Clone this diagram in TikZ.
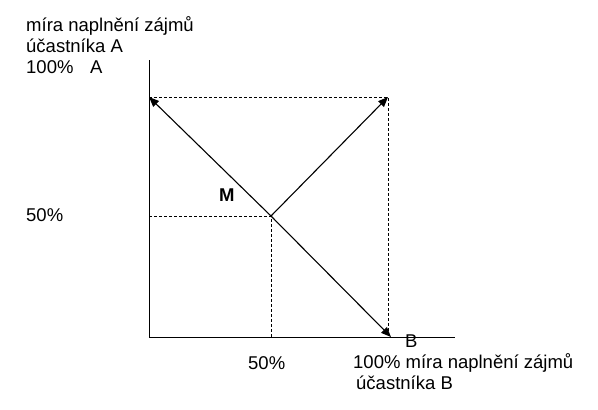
\documentclass[tikz,border=0pt]{standalone}
\usepackage{fontspec}
\setmainfont{Liberation Sans}
\usetikzlibrary{arrows.meta}
\begin{document}
\begin{tikzpicture}[x=1pt,y=-1pt,
  axis/.style={line width=1pt},
  guide/.style={line width=0.8pt,dash pattern=on 3pt off 2pt},
  vec/.style={line width=1.1pt,-{Triangle[length=10pt,width=8pt]}},
  lbl/.style={anchor=base west,inner sep=0pt,font=\fontsize{18.5}{21}\selectfont}]
\useasboundingbox (0,0) rectangle (598,410);
\coordinate (O) at (149,337);
\coordinate (Ytop) at (149,60);
\coordinate (Xend) at (455,337);
\coordinate (M) at (271,216);
\coordinate (TL) at (149,97);
\coordinate (TR) at (388,97);
\coordinate (BR) at (388,337);
\coordinate (ML) at (149,216);
\coordinate (MB) at (271,337);
\coordinate (BRtip) at (391,337);
% axes
\draw[axis] (Ytop) -- (O) -- (Xend);
% dashed guides
\draw[guide] (TL) -- (TR) -- (BR);
\draw[guide] (ML) -- (M) -- (MB);
% vectors
\draw[vec] (M) -- (TL);
\draw[vec] (M) -- (TR);
\draw[vec] (M) -- (BRtip);
% labels
\node[lbl] (ya1) at (26,31) {míra naplnění zájmů};
\node[lbl] (ya2) at (26,52.5) {účastníka A};
\node[lbl] (ya3) at (26,73.5) {\makebox[64pt][l]{100\%}A};
\node[lbl] (y50) at (26,221) {50\%};
\node[lbl,font=\fontsize{18.5}{21}\selectfont\bfseries] (m) at (219,201) {M};
\node[lbl] (x50) at (248,369) {50\%};
\node[lbl] (b) at (405,347) {B};
\node[lbl] (xb1) at (353,368) {100\% míra naplnění zájmů};
\node[lbl] (xb2) at (356,389) {účastníka B};
\end{tikzpicture}
\end{document}
